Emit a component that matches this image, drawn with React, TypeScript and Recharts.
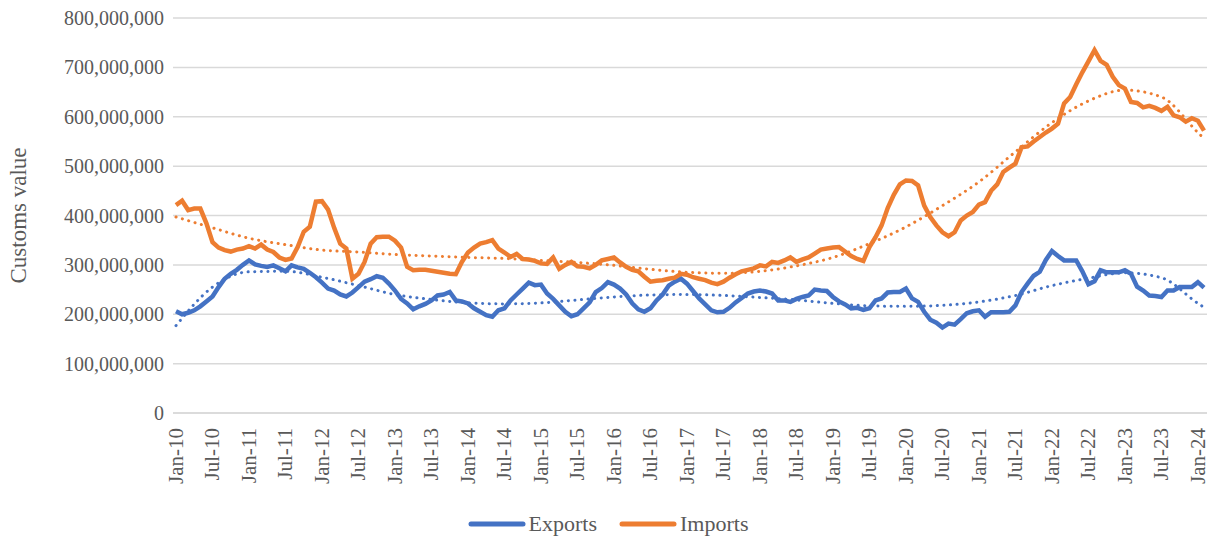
import React from "react"
import { CartesianGrid, Legend, Line, LineChart, XAxis, YAxis } from "recharts"

// monthly customs values in millions, Jan-10 .. Feb-24
const MONTHS = ["Jan", "Feb", "Mar", "Apr", "May", "Jun", "Jul", "Aug", "Sep", "Oct", "Nov", "Dec"]
const YEARS = [10, 11, 12, 13, 14, 15, 16, 17, 18, 19, 20, 21, 22, 23, 24]

const exportsM = [
  206, 200, 203, 208, 216, 226, 236, 255, 272, 282, 290, 300,
  309, 301, 298, 296, 299, 293, 287, 299, 295, 292, 284, 275,
  264, 252, 248, 240, 236, 244, 255, 266, 271, 277, 274, 262,
  248, 231, 222, 210, 216, 221, 228, 238, 240, 245, 228, 226,
  222, 212, 205, 198, 195, 208, 212, 228, 240, 252, 264, 259,
  260, 242, 231, 218, 205, 196, 200, 212, 224, 245, 253, 265,
  260, 252, 240, 222, 210, 205, 212, 228, 240, 258, 266, 272,
  262, 247, 232, 220, 208, 204, 205, 213, 224, 233, 242, 246,
  248, 246, 242, 228, 228, 225, 231, 235, 238, 250, 248, 247,
  235, 226, 220, 212, 213, 209, 212, 228, 232, 244, 245, 245,
  252, 232, 225, 205, 189, 183, 173, 181, 179, 190, 202, 206,
  208, 195, 204, 204, 204, 205, 218, 245, 262, 278, 286, 310,
  328, 318, 309, 309, 309, 287, 261, 267, 289, 285, 285, 285,
  289, 282, 256, 248, 238, 237, 235, 248, 248, 255, 255, 255,
  265, 254,
]

const importsM = [
  421, 430, 411, 414, 414, 384, 346, 335, 330, 327, 331, 333,
  338, 333, 341, 331, 326, 315, 310, 313, 336, 367, 377, 428,
  429, 412, 375, 343, 333, 272, 282, 306, 343, 356, 357, 357,
  349, 335, 296, 289, 290, 290, 288, 286, 284, 282, 281, 306,
  325, 335, 343, 346, 350, 333, 325, 316, 322, 312, 311, 308,
  303, 302, 315, 292, 300, 306, 297, 296, 293, 300, 309, 312,
  315, 305, 296, 290, 287, 276, 266, 268, 269, 272, 274, 282,
  280, 275, 272, 269, 264, 261, 266, 274, 281, 287, 290, 293,
  299, 297, 306, 304, 309, 315, 306, 311, 315, 323, 331, 333,
  335, 336, 327, 318, 312, 308, 336, 356, 380, 415, 442, 463,
  471, 470, 461, 420, 397, 380, 366, 358, 366, 390, 400, 407,
  422, 427, 450, 463, 488, 497, 505, 538, 540, 550, 559, 568,
  576, 586, 627, 640, 666, 690, 712, 735, 713, 705, 681, 664,
  657, 630, 628, 619, 622, 618, 612, 620, 603, 599, 590, 597,
  592, 572,
]

// trendline readings every six months (Jan / Jul) plus the last month
const exportsTrendM = [
  177, 255, 286, 287, 275, 258, 240, 230, 223, 221, 223, 229, 235, 239, 240,
  238, 234, 229, 222, 217, 216, 218, 225, 238, 258, 273, 284, 274, 222, 214,
]
const importsTrendM = [
  397, 375, 354, 341, 330, 326, 321, 318, 315, 313, 309, 305, 299, 291, 285,
  283, 287, 298, 315, 343, 377, 420, 468, 529, 588, 632, 654, 640, 568, 556,
]

const Y_TICKS = [0, 1, 2, 3, 4, 5, 6, 7, 8].map((n) => n * 100000000)

const FONT = '"Liberation Serif", "Times New Roman", serif'
const TEXT = "#595959"
const BLUE = "#4472C4"
const ORANGE = "#ED7D31"

const labels: string[] = []
YEARS.forEach((yr) => MONTHS.forEach((m) => labels.push(`${m}-${yr}`)))
const months = labels.slice(0, exportsM.length)
const xTicks = months.filter((l) => l.startsWith("Jan") || l.startsWith("Jul"))

const trendAt = (arr: number[], i: number) => {
  if (i % 6 === 0) return arr[i / 6] * 1e6
  if (i === months.length - 1) return arr[arr.length - 1] * 1e6
  return null
}

const data = months.map((m, i) => ({
  month: m,
  exports: exportsM[i] * 1e6,
  imports: importsM[i] * 1e6,
  expTrend: trendAt(exportsTrendM, i),
  impTrend: trendAt(importsTrendM, i),
}))

const XTick = ({ x, y, payload }: any) => (
  <text
    x={x}
    y={y}
    transform={`rotate(-90, ${x}, ${y})`}
    textAnchor="end"
    dx={-7}
    dy="0.33em"
    fill={TEXT}
    fontSize={21}
    fontFamily={FONT}
  >
    {payload.value}
  </text>
)

const LegendBox = () => (
  <div
    style={{
      display: "flex",
      justifyContent: "center",
      alignItems: "center",
      gap: 22,
      fontFamily: FONT,
      fontSize: 22,
      color: TEXT,
    }}
  >
    {[
      { name: "Exports", color: BLUE },
      { name: "Imports", color: ORANGE },
    ].map((it) => (
      <span key={it.name} style={{ display: "flex", alignItems: "center", gap: 3 }}>
        <svg width={58} height={10}>
          <line x1={3} y1={5} x2={55} y2={5} stroke={it.color} strokeWidth={5} strokeLinecap="round" />
        </svg>
        {it.name}
      </span>
    ))}
  </div>
)

export default function App() {
  return (
    <div style={{ position: "absolute", left: 0, top: 0, width: 1216, height: 540, background: "#fff" }}>
      <LineChart width={1216} height={540} data={data} margin={{ top: 18, right: 9, bottom: 17, left: 0 }}>
        <CartesianGrid vertical={false} stroke="#d9d9d9" strokeWidth={1.5} />
        <XAxis
          dataKey="month"
          ticks={xTicks}
          interval={0}
          height={110}
          padding={{ left: 3, right: 3 }}
          axisLine={{ stroke: "#d9d9d9", strokeWidth: 1.5 }}
          tickLine={false}
          tick={<XTick />}
        />
        <YAxis
          width={173}
          domain={[0, 800000000]}
          ticks={Y_TICKS}
          interval={0}
          axisLine={false}
          tickLine={false}
          tickMargin={3}
          tickFormatter={(v: number) => v.toLocaleString("en-US")}
          tick={{ fill: TEXT, fontSize: 20, fontFamily: FONT }}
          label={{
            value: "Customs value",
            angle: -90,
            position: "insideLeft",
            offset: 18,
            style: { textAnchor: "middle", fill: TEXT, fontSize: 23, fontFamily: FONT },
          }}
        />
        <Legend
          layout="horizontal"
          verticalAlign="middle"
          align="center"
          wrapperStyle={{ top: 511, left: 0, width: 1216 }}
          content={<LegendBox />}
        />
        <Line dataKey="exports" type="linear" stroke={BLUE} strokeWidth={4.5} dot={false} isAnimationActive={false} legendType="none" />
        <Line dataKey="imports" type="linear" stroke={ORANGE} strokeWidth={4.5} dot={false} isAnimationActive={false} legendType="none" />
        <Line
          dataKey="expTrend"
          type="monotone"
          connectNulls
          stroke={BLUE}
          strokeWidth={3}
          strokeDasharray="0.1 6.5"
          strokeLinecap="round"
          dot={false}
          isAnimationActive={false}
          legendType="none"
        />
        <Line
          dataKey="impTrend"
          type="monotone"
          connectNulls
          stroke={ORANGE}
          strokeWidth={3}
          strokeDasharray="0.1 6.5"
          strokeLinecap="round"
          dot={false}
          isAnimationActive={false}
          legendType="none"
        />
      </LineChart>
    </div>
  )
}
